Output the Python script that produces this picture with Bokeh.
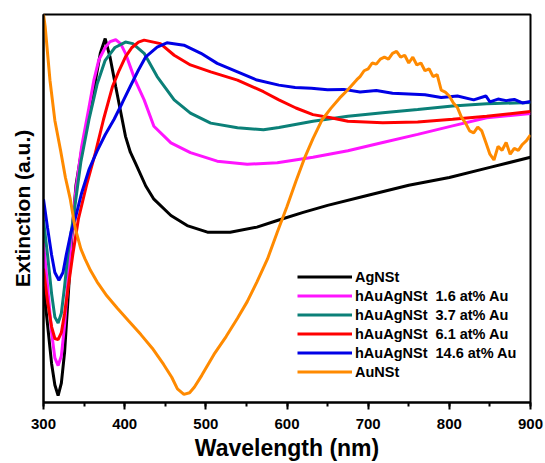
from bokeh.plotting import figure
from bokeh.models import SingleIntervalTicker, FixedTicker, Range1d
from bokeh.embed import file_html
from bokeh.resources import INLINE

# ---- data (extinction in arbitrary units) ----
ag_wl = [300, 305, 310, 314, 318, 322, 326, 330, 335, 340, 347, 356, 364, 370, 376, 382, 389, 395, 401, 407,
         413, 426, 436, 457, 477, 502, 530, 563, 588, 620, 650, 700, 750, 800, 850, 900]
ag_ext = [0.30, 0.20, 0.10, 0.045, 0.018, 0.05, 0.13, 0.26, 0.43, 0.56, 0.65, 0.74, 0.83, 0.90, 0.938, 0.89, 0.814, 0.75, 0.686, 0.645,
          0.618, 0.558, 0.524, 0.482, 0.456, 0.439, 0.439, 0.452, 0.469, 0.49, 0.508, 0.534, 0.56, 0.58, 0.606, 0.632]

h16_wl = [300, 305, 310, 314, 318, 322, 326, 330, 335, 340, 347, 356, 362, 368, 376, 382, 389, 395, 401, 407,
          413, 424, 436, 457, 481, 514, 551, 588, 632, 675, 718, 761, 804, 846, 900]
h16_ext = [0.41, 0.30, 0.18, 0.115, 0.095, 0.12, 0.20, 0.31, 0.44, 0.55, 0.66, 0.76, 0.83, 0.882, 0.915, 0.93, 0.935, 0.925, 0.90, 0.865,
           0.83, 0.78, 0.712, 0.669, 0.644, 0.622, 0.614, 0.618, 0.632, 0.649, 0.67, 0.691, 0.713, 0.734, 0.745]

h37_wl = [300, 305, 310, 314, 318, 322, 326, 330, 337, 346, 356, 366, 376, 388, 401, 410, 424, 440, 461, 481,
          506, 539, 571, 590, 632, 675, 718, 761, 804, 846, 900]
h37_ext = [0.47, 0.38, 0.28, 0.22, 0.205, 0.23, 0.30, 0.38, 0.48, 0.62, 0.729, 0.82, 0.882, 0.915, 0.929, 0.925, 0.90, 0.84, 0.78, 0.746,
           0.72, 0.708, 0.703, 0.709, 0.725, 0.738, 0.747, 0.755, 0.764, 0.77, 0.773]

h61_wl = [300, 305, 310, 314, 318, 322, 326, 330, 336, 343, 353, 364, 374, 385, 393, 401, 409, 417, 424, 444,
          461, 481, 506, 539, 571, 590, 611, 632, 654, 675, 718, 761, 804, 846, 900]
h61_ext = [0.345, 0.26, 0.195, 0.165, 0.162, 0.18, 0.23, 0.29, 0.38, 0.473, 0.56, 0.644, 0.73, 0.814, 0.855, 0.891, 0.915, 0.929, 0.934, 0.925,
           0.895, 0.87, 0.852, 0.831, 0.801, 0.78, 0.759, 0.742, 0.734, 0.725, 0.721, 0.723, 0.73, 0.738, 0.75]

h146_wl = [300, 305, 310, 314, 319, 324, 328, 334, 339, 347, 356, 366, 376, 387, 397, 407, 417, 426, 440, 452,
           473, 494, 514, 539, 563, 590, 610, 630, 650, 670, 690, 710, 730, 750, 770, 790, 810, 830, 845, 850,
           860, 870, 880, 890, 900]
h146_ext = [0.524, 0.45, 0.38, 0.335, 0.315, 0.335, 0.38, 0.44, 0.473, 0.54, 0.60, 0.648, 0.69, 0.73, 0.772, 0.815, 0.857, 0.891, 0.916, 0.927,
            0.921, 0.90, 0.874, 0.852, 0.831, 0.818, 0.812, 0.81, 0.806, 0.807, 0.80, 0.804, 0.797, 0.795, 0.793, 0.786, 0.79, 0.78, 0.79, 0.775,
            0.782, 0.778, 0.781, 0.772, 0.776]

au_wl = [300, 302, 308, 314, 321, 327, 333, 339, 346, 351, 358, 366, 378, 391, 405, 420, 434, 448, 458, 465,
         473, 480, 486, 495, 510, 525, 539, 551, 563, 576, 588, 600, 611, 622, 632, 643, 654, 665, 675, 686,
         690, 695, 700, 705, 710, 715, 720, 725, 730, 735, 740, 745, 750, 755, 760, 765, 770, 775, 780, 785,
         790, 795, 800, 805, 810, 815, 820, 825, 830, 835, 840, 845, 850, 855, 860, 865, 870, 875, 880, 885,
         890, 895, 900]
au_ext = [1.0, 0.97, 0.83, 0.727, 0.65, 0.58, 0.524, 0.45, 0.396, 0.371, 0.34, 0.311, 0.275, 0.243, 0.21, 0.175, 0.14, 0.098, 0.065, 0.035,
          0.021, 0.025, 0.04, 0.07, 0.124, 0.17, 0.217, 0.26, 0.311, 0.37, 0.439, 0.505, 0.57, 0.632, 0.68, 0.728, 0.758, 0.785, 0.806, 0.832,
          0.84, 0.855, 0.86, 0.875, 0.872, 0.885, 0.89, 0.885, 0.90, 0.905, 0.89, 0.895, 0.875, 0.89, 0.87, 0.875, 0.855, 0.86, 0.84, 0.845,
          0.805, 0.80, 0.79, 0.772, 0.76, 0.735, 0.72, 0.70, 0.695, 0.71, 0.70, 0.67, 0.64, 0.625, 0.66, 0.65, 0.67, 0.64, 0.655, 0.65,
          0.665, 0.675, 0.69]

series = [
    ("AgNSt", ag_wl, ag_ext, "#000000"),
    ("hAuAgNSt  1.6 at% Au", h16_wl, h16_ext, "#ff14ff"),
    ("hAuAgNSt  3.7 at% Au", h37_wl, h37_ext, "#0b8078"),
    ("hAuAgNSt  6.1 at% Au", h61_wl, h61_ext, "#ff0000"),
    ("hAuAgNSt  14.6 at% Au", h146_wl, h146_ext, "#0000e6"),
    ("AuNSt", au_wl, au_ext, "#ff8a00"),
]

FONT = "Liberation Sans"

p = figure(width=545, height=463, output_backend="svg", toolbar_location=None,
           x_range=Range1d(300, 900), y_range=Range1d(0, 1),
           min_border_left=43, min_border_right=15, min_border_top=14, min_border_bottom=58)
p.xgrid.visible = False
p.ygrid.visible = False
p.outline_line_color = "black"
p.outline_line_width = 2
p.background_fill_color = "white"

for name, wl, ext, col in series:
    p.line(wl, ext, line_color=col, line_width=3, legend_label=name)

xa = p.xaxis[0]
xa.ticker = SingleIntervalTicker(interval=100, num_minor_ticks=2)
xa.major_tick_in = 0
xa.major_tick_out = 7
xa.minor_tick_in = 0
xa.minor_tick_out = 4
xa.axis_line_width = 2
xa.major_tick_line_width = 2
xa.minor_tick_line_width = 2
xa.major_label_text_font = FONT
xa.major_label_text_font_style = "bold"
xa.major_label_text_font_size = "15px"
xa.major_label_text_color = "black"
xa.major_label_standoff = 9
xa.axis_label = "Wavelength (nm)"
xa.axis_label_text_font = FONT
xa.axis_label_text_font_style = "bold"
xa.axis_label_text_font_size = "23px"
xa.axis_label_text_color = "black"
xa.axis_label_standoff = 3

ya = p.yaxis[0]
ya.ticker = FixedTicker(ticks=[])
ya.axis_line_width = 2
ya.major_tick_line_color = None
ya.minor_tick_line_color = None
ya.axis_label = "Extinction (a.u.)"
ya.axis_label_text_font = FONT
ya.axis_label_text_font_style = "bold"
ya.axis_label_text_font_size = "21px"
ya.axis_label_text_color = "black"
ya.axis_label_standoff = 10

lg = p.legend[0]
lg.location = (254, 21)
lg.glyph_width = 55
lg.glyph_height = 19
lg.label_height = 19
lg.spacing = 0
lg.padding = 0
lg.margin = 0
lg.label_standoff = 3
lg.background_fill_alpha = 0
lg.border_line_alpha = 0
lg.label_text_font = FONT
lg.label_text_font_style = "bold"
lg.label_text_font_size = "14.5px"
lg.label_text_color = "black"

open("out.html", "w").write(file_html(p, INLINE))
